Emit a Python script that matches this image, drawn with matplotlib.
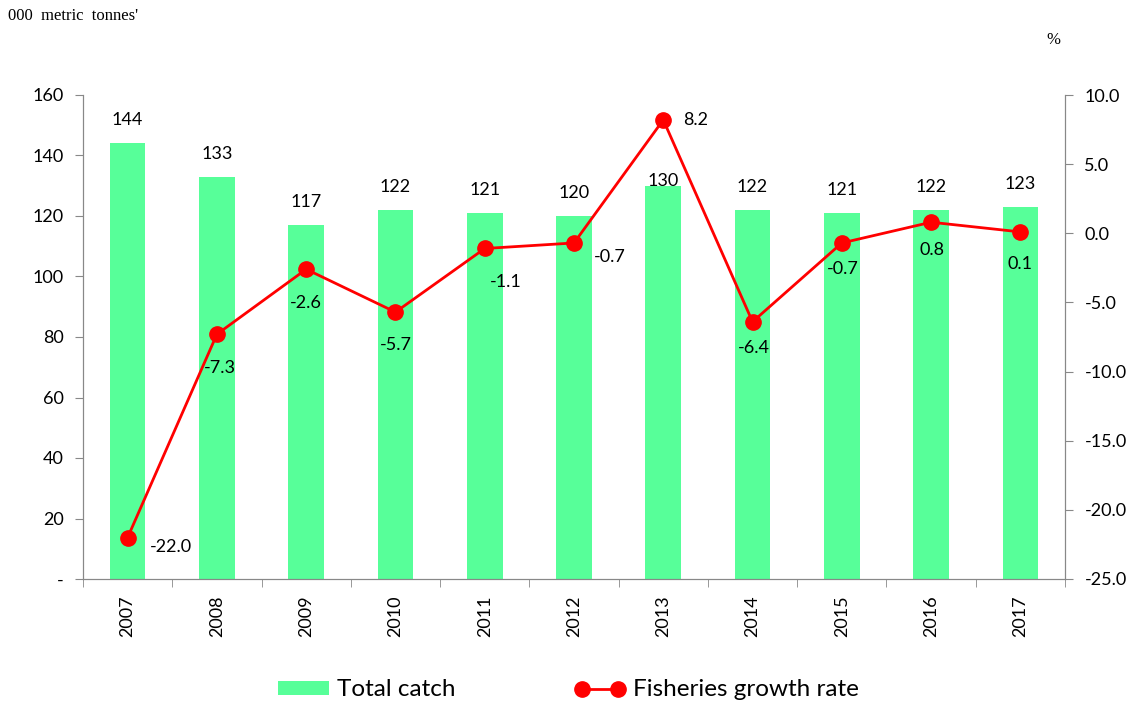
import numpy as np
import matplotlib.pyplot as plt
from matplotlib.ticker import FixedLocator, FuncFormatter

years = ['2007', '2008', '2009', '2010', '2011', '2012', '2013', '2014', '2015', '2016', '2017']
catch = [144, 133, 117, 122, 121, 120, 130, 122, 121, 122, 123]
growth = [-22.0, -7.3, -2.6, -5.7, -1.1, -0.7, 8.2, -6.4, -0.7, 0.8, 0.1]

plt.rcParams['font.family'] = ['Lato', 'DejaVu Sans']

fig = plt.figure(figsize=(11.37, 7.07), dpi=100)
ax = fig.add_axes([83 / 1137, 1 - 579 / 707, (1065 - 83) / 1137, (579 - 95) / 707])
x = np.arange(len(years))

ax.bar(x, catch, width=0.4, color='#57ff99', label='Total catch', zorder=2)
ax.set_ylim(0, 160)
ax.set_xlim(-0.5, len(years) - 0.5)
ax.set_yticks(range(0, 161, 20))
ax.yaxis.set_major_formatter(FuncFormatter(lambda v, p: '-' if v == 0 else '%d' % v))
ax.set_xticks(x)
ax.set_xticklabels(years, rotation=90)
ax.xaxis.set_minor_locator(FixedLocator(np.arange(-0.5, len(years), 1)))
ax.tick_params(axis='x', which='major', length=0, pad=12, labelsize=13)
ax.tick_params(axis='x', which='minor', length=6, color='#888888', direction='out')
ax.tick_params(axis='y', length=6, color='#888888', labelsize=13, pad=8)
for i, v in enumerate(catch):
    # 2013 label sits right on the bar top, away from the 8.2 label
    yy = v - 1 if years[i] == '2013' else v + 5
    ax.text(i, yy, str(v), ha='center', va='bottom', fontsize=13)

ax2 = ax.twinx()
ax2.plot(x, growth, color='red', lw=2, marker='o', markersize=11, label='Fisheries growth rate', zorder=3)
ax2.set_ylim(-25, 10)
ax2.set_yticks(range(-25, 11, 5))
ax2.yaxis.set_major_formatter(FuncFormatter(lambda v, p: '%.1f' % v))
ax2.tick_params(axis='y', length=6, color='#888888', labelsize=13, pad=8)

# label offsets (points)
offs = [(16, -7, 'left'), (2, -24, 'center'), (0, -24, 'center'), (0, -24, 'center'),
        (15, -24, 'center'), (14, -10, 'left'), (14, 0, 'left'), (1, -19, 'center'),
        (1, -19, 'center'), (1, -20, 'center'), (0, -23, 'center')]
for i, v in enumerate(growth):
    dx, dy, ha = offs[i]
    ax2.annotate('%.1f' % v, (i, v), xytext=(dx, dy), textcoords='offset points',
                 ha=ha, va='center', fontsize=13)

for a in (ax, ax2):
    for s in a.spines.values():
        s.set_color('#888888')
    a.spines['top'].set_visible(False)

fig.text(8 / 1137, 1 - 16 / 707, "000  metric  tonnes'", family='Liberation Serif', fontsize=12, va='center')
fig.text(1053 / 1137, 1 - 40 / 707, '%', family='Liberation Serif', fontsize=12, ha='center', va='center')

h1, l1 = ax.get_legend_handles_labels()
h2, l2 = ax2.get_legend_handles_labels()
fig.legend(h1 + h2, l1 + l2, loc='center', bbox_to_anchor=(0.5, 1 - 690 / 707), ncol=2,
           frameon=False, fontsize=17.5, columnspacing=4.9, handlelength=2.1, handletextpad=0.3,
           handleheight=0.55, numpoints=2)

fig.savefig('out.png', dpi=100)
